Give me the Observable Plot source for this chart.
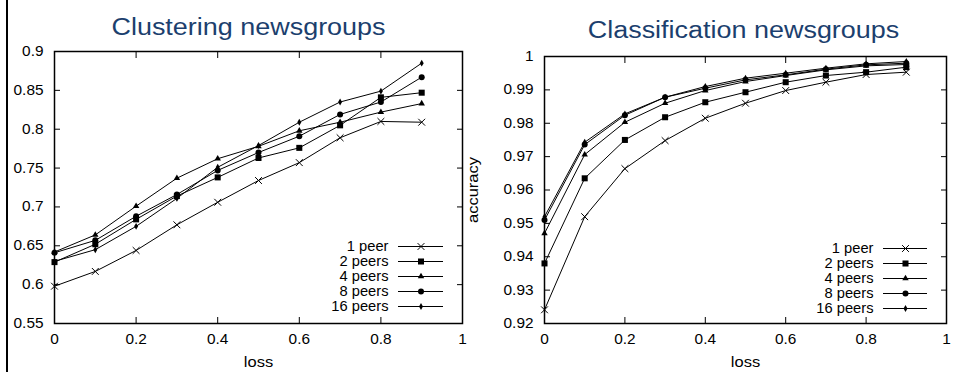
<!DOCTYPE html>
<html><head><meta charset="utf-8">
<script src="https://cdn.jsdelivr.net/npm/d3@7"></script>
<script src="https://cdn.jsdelivr.net/npm/@observablehq/plot@0.6"></script>
<style>
body{margin:0;background:#fff;}
#root{position:relative;width:953px;height:372px;overflow:hidden;background:#fff;}
#root svg{position:absolute;overflow:visible;}
#bar{position:absolute;left:6px;top:0;width:2px;height:372px;background:#000;}
</style></head><body><div id="root"><div id="bar"></div></div>
<script>
// ---- data ----
const loss = [0, 0.1, 0.2, 0.3, 0.4, 0.5, 0.6, 0.7, 0.8, 0.9];
const seriesNames = ["1 peer", "2 peers", "4 peers", "8 peers", "16 peers"];
const symbols = ["times", "square", "triangle", "circle", "diamond"];

const clustering1 = [0.598, 0.617, 0.644, 0.677, 0.706, 0.734, 0.757, 0.789, 0.810, 0.809];
const clustering2 = [0.629, 0.652, 0.684, 0.714, 0.738, 0.763, 0.776, 0.805, 0.841, 0.847];
const clustering4 = [0.642, 0.664, 0.701, 0.737, 0.762, 0.778, 0.798, 0.809, 0.822, 0.833];
const clustering8 = [0.641, 0.657, 0.688, 0.716, 0.747, 0.770, 0.791, 0.819, 0.835, 0.867];
const clustering16 = [0.630, 0.645, 0.675, 0.711, 0.751, 0.779, 0.809, 0.835, 0.849, 0.885];

const classification1 = [0.9241, 0.9520, 0.9664, 0.9748, 0.9815, 0.9860, 0.9898, 0.9923, 0.9946, 0.9953];
const classification2 = [0.9380, 0.9635, 0.9750, 0.9818, 0.9863, 0.9893, 0.9923, 0.9943, 0.9953, 0.9968];
const classification4 = [0.9470, 0.9706, 0.9803, 0.9860, 0.9898, 0.9925, 0.9943, 0.9960, 0.9972, 0.9976];
const classification8 = [0.9510, 0.9736, 0.9824, 0.9878, 0.9905, 0.9930, 0.9945, 0.9962, 0.9975, 0.9980];
const classification16 = [0.9520, 0.9743, 0.9828, 0.9878, 0.9910, 0.9935, 0.9950, 0.9965, 0.9978, 0.9985];

const xTicks = [0, 0.2, 0.4, 0.6, 0.8, 1];
const clusteringYTicks = [0.55, 0.6, 0.65, 0.7, 0.75, 0.8, 0.85, 0.9];
const classificationYTicks = [0.92, 0.93, 0.94, 0.95, 0.96, 0.97, 0.98, 0.99, 1];
const titles = ["Clustering newsgroups", "Classification newsgroups"];
const xLabel = "loss";
const yLabel = "accuracy";

// ---- styles ----
const FONT = '"Liberation Sans", Arial, Helvetica, sans-serif';
const TITLE_COLOR = "#1c3f6e";
const markerStyle = {
  times: {r: 3.2, stroke: "#000", strokeWidth: 1, fill: "none"},
  square: {r: 3.4, fill: "#000"},
  triangle: {r: 2.4, fill: "#000"},
  circle: {r: 3, fill: "#000"},
  diamond: {r: 2.1, fill: "#000"}
};
const fmt = d3.format("~g");

function stretchText(svg, k) {
  svg.querySelectorAll("text").forEach(t => {
    if (t.closest('g[aria-label="title"]')) return;
    const tr = t.getAttribute("transform");
    if (tr != null) t.setAttribute("transform", tr + ` scale(${k},1)`);
  });
}

function chart(values, yDomain, yTicks, o) {
  const rows = seriesNames.flatMap((s, i) => loss.map((x, j) => ({series: s, loss: x, acc: values[i][j]})));
  const dots = seriesNames.map((s, i) =>
    Plot.dot(rows.filter(r => r.series === s), {x: "loss", y: "acc", symbol: symbols[i], ...markerStyle[symbols[i]]}));
  const marks = [
    Plot.axisX({anchor: "bottom", ticks: xTicks, tickSize: -6, tickPadding: 17, tickFormat: fmt, label: null}),
    Plot.axisX({anchor: "top", ticks: xTicks, tickSize: -6, tickFormat: () => "", label: null}),
    Plot.axisY({anchor: "left", ticks: yTicks, tickSize: -6, tickPadding: 17, tickFormat: fmt, label: null}),
    Plot.axisY({anchor: "right", ticks: yTicks, tickSize: -6, tickFormat: () => "", label: null}),
    Plot.frame({stroke: "#000", strokeWidth: 1.5}),
    Plot.line(rows, {x: "loss", y: "acc", z: "series", stroke: "#000", strokeWidth: 1}),
    ...dots,
    Plot.text([xLabel], {frameAnchor: "bottom", dy: 39, text: d => d, textAnchor: "middle", lineAnchor: "middle", fontSize: 15, fill: "#000"}),
    Plot.text([o.title], {ariaLabel: "title", frameAnchor: "top", dx: o.titleDx, dy: o.titleDy, text: d => d, textAnchor: "middle", lineAnchor: "middle", fontSize: 24.5, fill: TITLE_COLOR})
  ];
  if (o.yLabel) marks.push(Plot.text([o.yLabel], {frameAnchor: "left", dx: o.yLabelDx, rotate: -90, text: d => d, textAnchor: "middle", lineAnchor: "middle", fontSize: 15, fill: "#000"}));
  const svg = Plot.plot({
    width: o.width, height: o.height,
    marginLeft: o.ml, marginRight: o.mr, marginTop: o.mt, marginBottom: o.mb,
    style: {fontFamily: FONT, fontSize: "14px", color: "#000", background: "transparent", overflow: "visible"},
    x: {domain: [0, 1]},
    y: {domain: yDomain},
    marks
  });
  stretchText(svg, 1.1);
  svg.style.left = o.left + "px";
  svg.style.top = "0px";
  return svg;
}

function legend(o) {
  const marks = [
    Plot.ruleY(seriesNames, {y: d => d, x1: 0, x2: 1, stroke: "#000", strokeWidth: 1}),
    ...seriesNames.map((s, i) => Plot.dot([s], {x: 0.5, y: d => d, symbol: symbols[i], ...markerStyle[symbols[i]]})),
    Plot.text(seriesNames, {x: 0, y: d => d, text: d => d, dx: -10, textAnchor: "end", lineAnchor: "middle", fill: "#000"})
  ];
  const svg = Plot.plot({
    width: o.width, height: o.height, margin: 0,
    style: {fontFamily: FONT, fontSize: "14px", color: "#000", background: "transparent", overflow: "visible"},
    x: {domain: [0, 1], range: o.xRange, axis: null},
    y: {type: "point", domain: seriesNames, range: o.yRange, padding: 0, axis: null},
    marks
  });
  stretchText(svg, 1.05);
  svg.style.left = o.left + "px";
  svg.style.top = o.top + "px";
  return svg;
}

const root = document.getElementById("root");

root.appendChild(chart(
  [clustering1, clustering2, clustering4, clustering8, clustering16],
  [0.55, 0.9], clusteringYTicks,
  {left: 0, width: 480, height: 372, ml: 54, mr: 18, mt: 51, mb: 49,
   title: titles[0], titleDx: -10, titleDy: -24.5}
));

root.appendChild(chart(
  [classification1, classification2, classification4, classification8, classification16],
  [0.92, 1], classificationYTicks,
  {left: 460, width: 493, height: 372, ml: 84, mr: 7, mt: 56, mb: 49,
   title: titles[1], titleDx: -2, titleDy: -26.2, yLabel: yLabel, yLabelDx: -71.5}
));

root.appendChild(legend({left: 330, top: 236, width: 125, height: 82, xRange: [68, 113], yRange: [9.7, 71.2]}));
root.appendChild(legend({left: 820, top: 238, width: 125, height: 82, xRange: [63, 107], yRange: [9.7, 71]}));
</script>
</body></html>
